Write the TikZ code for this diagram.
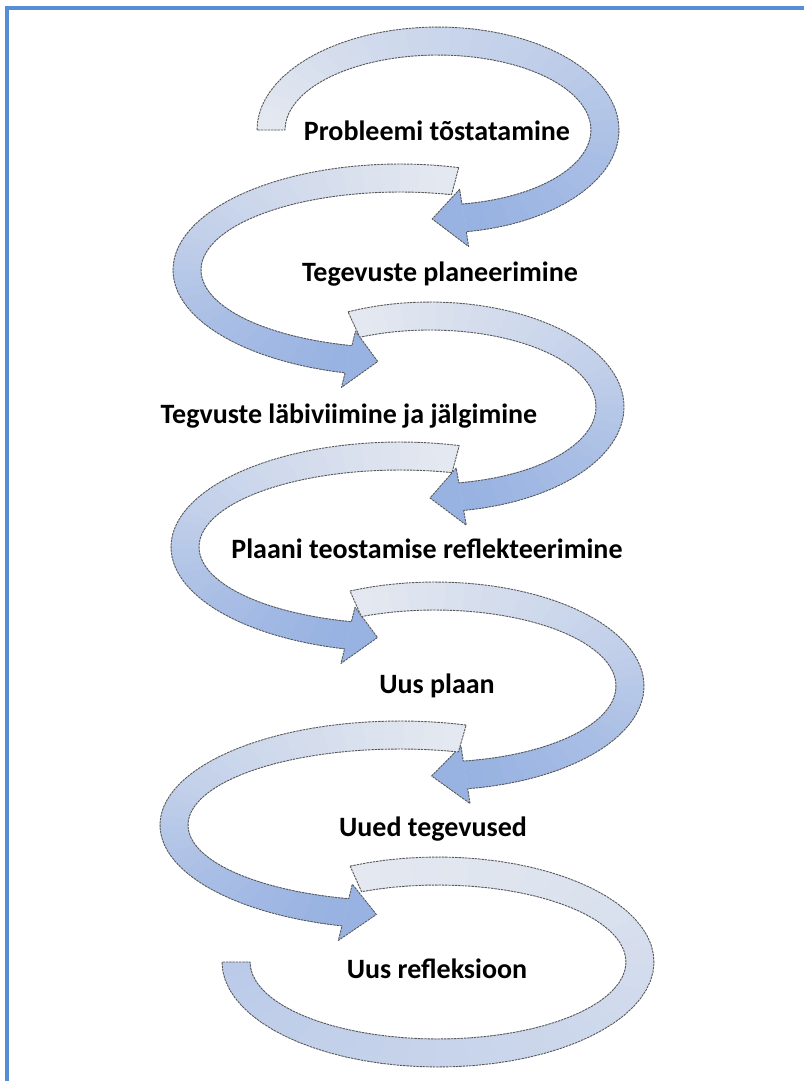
\documentclass[tikz,border=0pt]{standalone}
\usepackage{fontspec}
\setmainfont{Carlito}
\usepackage{tikz}

\definecolor{framebl}{RGB}{85,142,213}
\definecolor{headbl}{RGB}{152,178,226}
\definecolor{tailgr}{RGB}{228,232,240}

\begin{document}
\begin{tikzpicture}[x=1pt,y=-1pt,
  bandline/.style={draw=black!65,line width=0.9pt,dash pattern=on 2.4pt off 0.9pt,line join=round},
  lbl/.style={font=\fontsize{28}{32}\selectfont\bfseries,anchor=base,inner sep=0pt}]
%
\path[use as bounding box] (0,0) rectangle (804,1081);
\draw[framebl,line width=4pt] (7,1081) -- (7,8) -- (804,8);
%
% #1,#2 centre  #3,#4 radii  #5 start  #6 end of band  #7 tip  #8 head half width  #9 last shade
\newcommand{\loopband}[9]{
  \foreach \i in {0,...,35}{
    \pgfmathsetmacro{\a}{#5+(#6-#5)*\i/36}
    \pgfmathsetmacro{\b}{#5+(#6-#5)*(\i+1)/36}
    \pgfmathtruncatemacro{\p}{#9*\i/35}
    \filldraw[fill=headbl!\p!tailgr,draw=headbl!\p!tailgr,line width=0.5pt]
      ({#1+(#3+14)*cos(\a)},{#2+(#4+14)*sin(\a)}) -- ({#1+(#3+14)*cos(\b)},{#2+(#4+14)*sin(\b)})
      -- ({#1+(#3-14)*cos(\b)},{#2+(#4-14)*sin(\b)}) -- ({#1+(#3-14)*cos(\a)},{#2+(#4-14)*sin(\a)}) -- cycle;
  };
  \fill[headbl!#9!tailgr] ({#1+(#3+#8)*cos(#6)},{#2+(#4+#8)*sin(#6)}) -- ({#1+#3*cos(#7)},{#2+#4*sin(#7)})
    -- ({#1+(#3-#8)*cos(#6)},{#2+(#4-#8)*sin(#6)}) -- cycle;
  \draw[bandline] plot[domain=#5:#6,samples=60] ({#1+(#3+14)*cos(\x)},{#2+(#4+14)*sin(\x)})
    -- ({#1+(#3+#8)*cos(#6)},{#2+(#4+#8)*sin(#6)})
    -- ({#1+#3*cos(#7)},{#2+#4*sin(#7)})
    -- ({#1+(#3-#8)*cos(#6)},{#2+(#4-#8)*sin(#6)})
    -- plot[domain=#6:#5,samples=60] ({#1+(#3-14)*cos(\x)},{#2+(#4-14)*sin(\x)})
    -- cycle;
}
%
\loopband{438}{130}{167}{89}{180}{441}{452}{29}{100}
\loopband{400}{270}{213}{92}{285}{104}{96}{29}{100}
\loopband{430}{407}{180}{91}{245}{440}{450}{29}{100}
\loopband{400}{547}{215}{91}{285}{104}{96}{29}{100}
\loopband{435}{686}{195}{90}{246}{441}{451}{29}{100}
\loopband{400}{825}{226}{90}{286}{104}{96}{29}{100}
\loopband{438}{962}{202}{91}{246}{540}{540}{14}{55}
%
\node[lbl] (problem) at (437,140) {Probleemi tõstatamine};
\node[lbl] (plan) at (440,281) {Tegevuste planeerimine};
\node[lbl] (action) at (349,423) {Tegvuste läbiviimine ja jälgimine};
\node[lbl] (reflect) at (427,558) {Plaani teostamise reflekteerimine};
\node[lbl] (newplan) at (437,693) {Uus plaan};
\node[lbl] (newaction) at (433,836) {Uued tegevused};
\node[lbl] (newreflect) at (437,978) {Uus refleksioon};
%
\end{tikzpicture}
\end{document}
